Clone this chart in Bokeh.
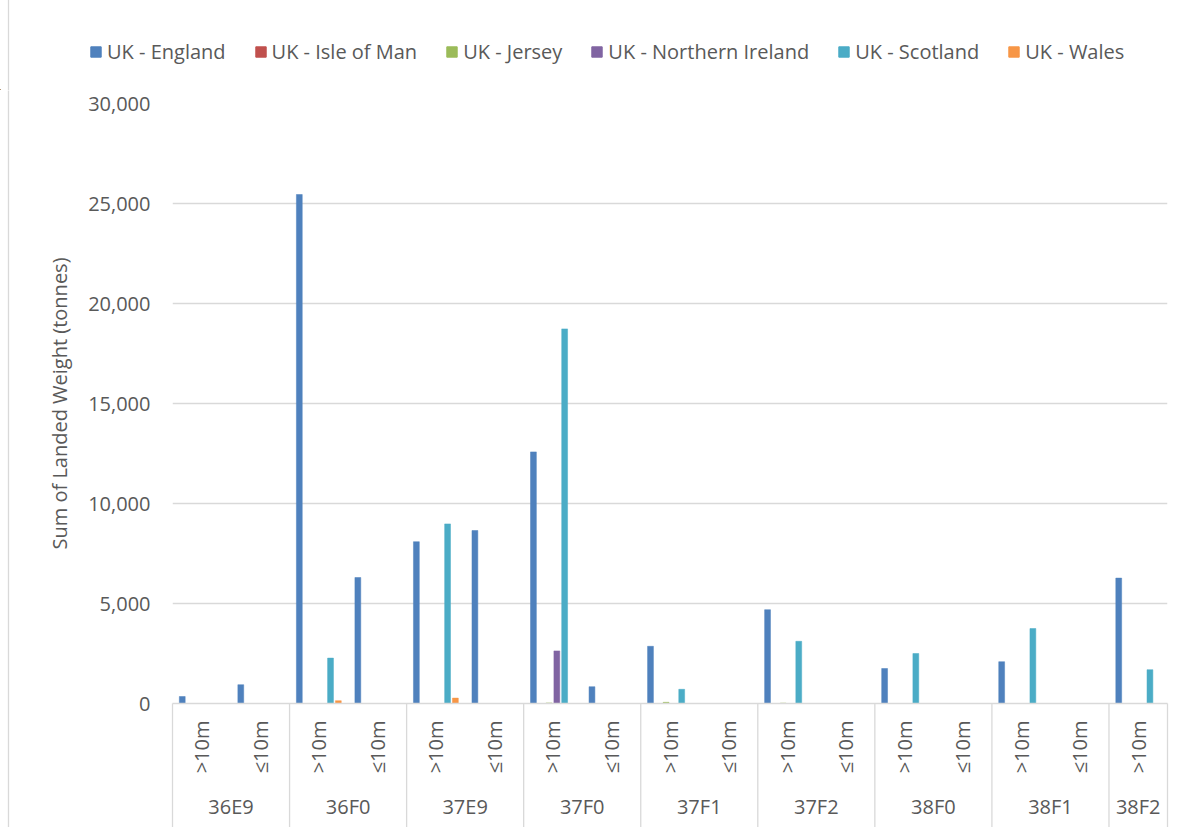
import math
from bokeh.plotting import figure
from bokeh.layouts import column
from bokeh.models import (FactorRange, ColumnDataSource, Range1d, FixedTicker,
                          NumeralTickFormatter, Legend, LegendItem)
from bokeh.transform import dodge
from bokeh.embed import file_html
from bokeh.resources import INLINE

# ---------------- data ----------------
rectangles = ["36E9", "36E9", "36F0", "36F0", "37E9", "37E9", "37F0", "37F0",
              "37F1", "37F1", "37F2", "37F2", "38F0", "38F0", "38F1", "38F1", "38F2"]
lengths = [">10m", "≤10m", ">10m", "≤10m", ">10m", "≤10m", ">10m", "≤10m",
           ">10m", "≤10m", ">10m", "≤10m", ">10m", "≤10m", ">10m", "≤10m", ">10m"]

series_names = ["UK - England", "UK - Isle of Man", "UK - Jersey",
                "UK - Northern Ireland", "UK - Scotland", "UK - Wales"]

england = [350, 940, 25450, 6300, 8090, 8650, 12580, 840, 2860, 0, 4690, 0, 1750, 0, 2090, 0, 6270]
isle_of_man = [0] * 17
jersey = [0, 0, 0, 0, 0, 0, 30, 0, 60, 0, 20, 0, 0, 0, 0, 0, 0]
northern_ireland = [0, 0, 0, 0, 0, 0, 2630, 0, 0, 0, 0, 0, 0, 0, 0, 0, 0]
scotland = [0, 0, 2270, 0, 8980, 0, 18730, 0, 710, 0, 3110, 0, 2500, 0, 3750, 0, 1690]
wales = [0, 0, 140, 0, 270, 0, 0, 0, 0, 0, 0, 0, 0, 0, 0, 0, 0]

y_ticks = [0, 5000, 10000, 15000, 20000, 25000, 30000]

colors = ["#4F81BD", "#C0504D", "#9BBB59", "#8064A2", "#4BACC6", "#F79646"]

# ---------------- styling ----------------
FONT = "Open Sans"
TXT = "#595959"
GRID = "#D9D9D9"

W = 1182
LEG_H = 90
H = 827 - LEG_H
left, right, top, bottom = 172, 15, 13, 124
BORDER_X = 8  # chart-area border, px from the left edge

factors = list(zip(rectangles, lengths))
source = ColumnDataSource(dict(x=factors, england=england, iom=isle_of_man, jersey=jersey,
                               ni=northern_ireland, scotland=scotland, wales=wales))
cols = ["england", "iom", "jersey", "ni", "scotland", "wales"]

# ---------------- main chart ----------------
p = figure(width=W, height=H, output_backend="svg", toolbar_location=None,
           x_range=FactorRange(*factors, group_padding=0, factor_padding=0, range_padding=0),
           y_range=Range1d(0, 30000),
           min_border_left=left, min_border_right=right,
           min_border_top=top, min_border_bottom=bottom)
p.frame_align = False
p.outline_line_color = None
p.background_fill_color = "white"
p.border_fill_color = "white"

step = 0.1333
for i, (c, col) in enumerate(zip(cols, colors)):
    p.vbar(x=dodge("x", (i - 2.5) * step, range=p.x_range), top=c, width=0.1,
           source=source, fill_color=col, line_color=col, line_width=0.5)

# group separators below the category axis
groups = []
for g in rectangles:
    if g not in groups:
        groups.append(g)
sep_x = []
for g in groups:
    first = factors[rectangles.index(g)]
    sep_x.append((first[0], first[1], -0.5))
last = factors[-1]
sep_x.append((last[0], last[1], 0.5))
frame_h = H - top - bottom
frame_w = W - left - right
y_low = -bottom / frame_h * 30000
y_high = 30000 + top / frame_h * 30000
p.segment(x0=sep_x, x1=sep_x, y0=[0] * len(sep_x), y1=[y_low] * len(sep_x),
          line_color=GRID, line_width=1.3, level="overlay")

# chart-area border on the left
slot_w = frame_w / len(factors)
bx = (factors[0][0], factors[0][1], -0.5 - (left - BORDER_X) / slot_w)
p.segment(x0=[bx], x1=[bx], y0=[y_low], y1=[y_high],
          line_color=GRID, line_width=1.3, level="overlay")

xa = p.xaxis[0]
xa.axis_line_color = GRID
xa.axis_line_width = 1.3
xa.major_tick_line_color = None
xa.major_tick_out = 0
xa.major_tick_in = 0
xa.major_label_orientation = math.pi / 2
xa.major_label_standoff = 17
xa.major_label_text_font = FONT
xa.major_label_text_font_size = "20px"
xa.major_label_text_color = TXT
xa.group_text_font = FONT
xa.group_text_font_size = "20px"
xa.group_text_font_style = "normal"
xa.group_text_color = TXT
xa.group_label_orientation = "horizontal"
xa.separator_line_color = None

ya = p.yaxis[0]
ya.ticker = FixedTicker(ticks=y_ticks)
ya.formatter = NumeralTickFormatter(format="0,0")
ya.axis_line_color = None
ya.major_tick_line_color = None
ya.minor_tick_line_color = None
ya.major_tick_out = 0
ya.major_tick_in = 0
ya.major_label_standoff = 22
ya.major_label_text_font = FONT
ya.major_label_text_font_size = "20px"
ya.major_label_text_color = TXT
ya.axis_label = "Sum of Landed Weight (tonnes)"
ya.axis_label_text_font = FONT
ya.axis_label_text_font_size = "20px"
ya.axis_label_text_font_style = "normal"
ya.axis_label_text_color = TXT
ya.axis_label_standoff = 12

p.xgrid.grid_line_color = None
p.ygrid.ticker = FixedTicker(ticks=y_ticks)
p.ygrid.grid_line_color = GRID
p.ygrid.grid_line_width = 1.3

# ---------------- legend strip ----------------
lp = figure(width=W, height=LEG_H, output_backend="svg", toolbar_location=None,
            x_range=Range1d(0, W), y_range=Range1d(0, LEG_H),
            x_axis_location=None, y_axis_location=None, min_border=0)
lp.frame_align = False
lp.outline_line_color = None
lp.grid.visible = False
lp.background_fill_color = "white"
lp.border_fill_color = "white"
lp.segment(x0=[BORDER_X], x1=[BORDER_X], y0=[-5], y1=[LEG_H + 5],
           line_color=GRID, line_width=1.3, level="overlay")
# legend keys (the single point lies outside the strip's visible range)
leg_renderers = [lp.vbar(x=[-500], top=[1], width=1, fill_color=col, line_color=col)
                 for col in colors]
legend = Legend(items=[LegendItem(label=n, renderers=[r]) for n, r in zip(series_names, leg_renderers)],
                orientation="horizontal", location=(89, 25),
                glyph_width=13, glyph_height=13, label_standoff=5, spacing=28,
                label_height=27,
                padding=0, margin=0, border_line_color=None, background_fill_alpha=0,
                label_text_font=FONT, label_text_font_size="20px", label_text_color=TXT)
lp.add_layout(legend, "center")

layout = column(lp, p, spacing=0)
open("out.html", "w").write(file_html(layout, INLINE))
